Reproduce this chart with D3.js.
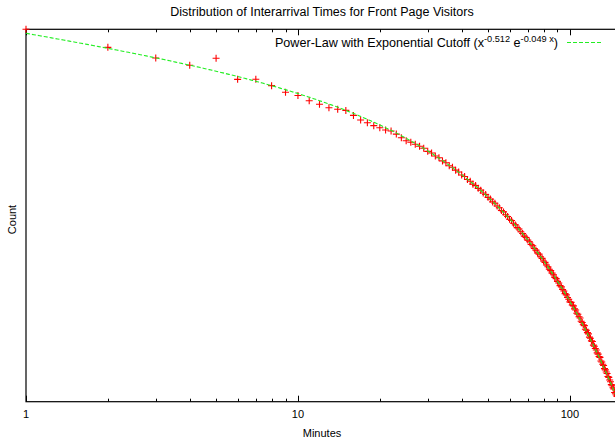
<!DOCTYPE html>
<html>
<head>
<meta charset="utf-8">
<script src="https://cdn.jsdelivr.net/npm/d3@7/dist/d3.min.js"></script>
<style>
  body { margin: 0; background: #fff; }
  text { font-family: "Liberation Sans", Arial, Helvetica, sans-serif; fill: #000; }
</style>
</head>
<body>
<div id="chart"></div>
<script>
// interarrival time in minutes (1..150) and number of visits observed at each
const minutes = d3.range(1, 151);
const counts = [
  523000, 322000, 242000, 199000, 240000, 136100, 136500, 114900, 96100, 88140,
  76690, 69680, 63540, 61000, 59100, 51640, 45630, 42390, 39180, 37100,
  34850, 34010, 31210, 28360, 26140, 25080, 23750, 22500, 21380, 19650,
  18780, 17310, 16530, 15180, 14450, 13340, 12790, 11850, 11260, 10410,
  9990, 9228, 8783, 8133, 7816, 7257, 6913, 6407, 6163, 5702,
  5438, 5045, 4857, 4520, 4311, 4002, 3854, 3570, 3409, 3167,
  3053, 2844, 2717, 2525, 2435, 2259, 2159, 2008, 1937, 1806,
  1727, 1606, 1551, 1439, 1377, 1281, 1237, 1155, 1105, 1028,
  993, 923, 883, 823, 795, 742, 711, 662, 640, 595,
  570, 531, 513, 479, 459, 428, 414, 385, 368, 343,
  338, 315, 308, 284, 275, 252, 246, 230, 222, 204,
  197, 185, 181, 164, 160, 150, 145, 133, 129, 120,
  118, 107, 104, 98, 94, 87, 84, 79, 77, 70,
  68, 64, 62, 57, 55, 52, 50, 46, 45, 42,
  40, 37, 36, 34, 33, 30, 29, 28, 27, 25
];

// fitted power law with exponential cutoff: A * x^alpha * e^(-lambda x)
const fitAmplitude = 493184;
const fitAlpha = -0.512;
const fitLambda = 0.049;
const fitLabel = ["Power-Law with Exponential Cutoff (x", "-0.512", " e", "-0.049 x", ")"];

const xTickLabels = [1, 10, 100];
const title = "Distribution of Interarrival Times for Front Page Visitors";

const W = 615, H = 443;
const margin = {top: 29.3, left: 26, bottom: 41.3};
const plotRight = 617;
const xMax = 149;
const yMin = 23.4, yMax = 523000;

const svg = d3.select("#chart").append("svg")
  .attr("width", W).attr("height", H);

const x = d3.scaleLog().domain([1, xMax]).range([margin.left, plotRight]);
const y = d3.scaleLog().domain([yMin, yMax]).range([H - margin.bottom, margin.top]);

const y0 = y.range()[0], y1 = y.range()[1];

// minor / major ticks on bottom and mirrored on top
const tickVals = [];
[1, 10, 100].forEach(d => {
  for (let k = 1; k <= 9; k++) {
    const v = d * k;
    if (v <= xMax) tickVals.push({v, major: k === 1});
  }
});

const ticks = svg.append("g").attr("stroke", "#000").attr("stroke-width", 1);
tickVals.forEach(t => {
  const px = Math.round(x(t.v)) + 0.5;
  const len = t.major ? 6 : 3;
  ticks.append("line").attr("x1", px).attr("x2", px)
    .attr("y1", y0).attr("y2", y0 - len);
  ticks.append("line").attr("x1", px).attr("x2", px)
    .attr("y1", y1).attr("y2", y1 + len);
});

// border
svg.append("rect")
  .attr("x", x.range()[0]).attr("y", y1)
  .attr("width", x.range()[1] - x.range()[0]).attr("height", y0 - y1)
  .attr("fill", "none").attr("stroke", "#000").attr("stroke-width", 1.2);

svg.append("g").selectAll("text").data(xTickLabels).enter().append("text")
  .attr("x", d => x(d)).attr("y", 418)
  .attr("text-anchor", "middle").attr("font-size", 11)
  .text(d => d);

// data points
const pts = minutes.map((m, i) => ({m, c: counts[i]})).filter(d => d.m <= xMax);
const s = 3.5;
svg.append("g").attr("stroke", "#ff0000").attr("stroke-width", 1.1)
  .selectAll("path").data(pts).enter().append("path")
  .attr("d", d => {
    const cx = x(d.m), cy = y(d.c);
    return `M${cx - s},${cy}H${cx + s}M${cx},${cy - s}V${cy + s}`;
  });

// fit curve
const fit = v => fitAmplitude * Math.pow(v, fitAlpha) * Math.exp(-fitLambda * v);
const fitPts = d3.range(0, 301).map(i => Math.pow(xMax, i / 300));
const clipId = "plotclip";
svg.append("clipPath").attr("id", clipId).append("rect")
  .attr("x", x.range()[0]).attr("y", y1)
  .attr("width", x.range()[1] - x.range()[0]).attr("height", y0 - y1);
svg.append("path")
  .datum(fitPts)
  .attr("clip-path", `url(#${clipId})`)
  .attr("fill", "none")
  .attr("stroke", "#22ee22")
  .attr("stroke-width", 1.1)
  .attr("stroke-dasharray", "4,2")
  .attr("d", d3.line().x(v => x(v)).y(v => y(fit(v))));

// legend
const leg = svg.append("text")
  .attr("x", 558).attr("y", 47)
  .attr("text-anchor", "end").attr("font-size", 12.6);
leg.append("tspan").text(fitLabel[0]);
leg.append("tspan").attr("dy", -5.5).attr("font-size", 9.2).text(fitLabel[1]);
leg.append("tspan").attr("dy", 5.5).text(fitLabel[2]);
leg.append("tspan").attr("dy", -5.5).attr("font-size", 9.2).text(fitLabel[3]);
leg.append("tspan").attr("dy", 5.5).text(fitLabel[4]);

svg.append("line")
  .attr("x1", 567).attr("x2", 603).attr("y1", 42.5).attr("y2", 42.5)
  .attr("stroke", "#22ee22").attr("stroke-width", 1.1)
  .attr("stroke-dasharray", "4,2");

// titles
svg.append("text").attr("x", 322).attr("y", 15.5)
  .attr("text-anchor", "middle").attr("font-size", 12.5).text(title);

svg.append("text").attr("x", 322).attr("y", 437)
  .attr("text-anchor", "middle").attr("font-size", 11).text("Minutes");

svg.append("text")
  .attr("transform", `translate(16,${(y0 + y1) / 2 + 4}) rotate(-90)`)
  .attr("text-anchor", "middle").attr("font-size", 11).text("Count");
</script>
</body>
</html>
